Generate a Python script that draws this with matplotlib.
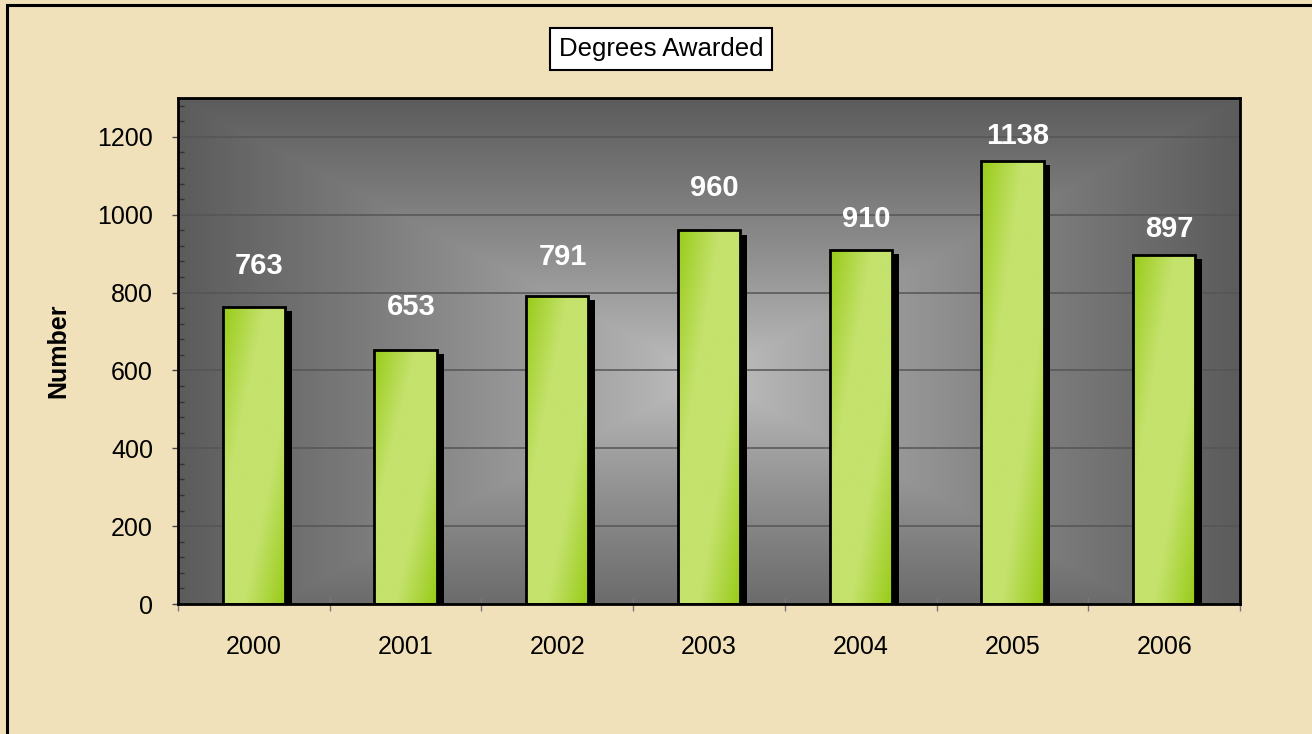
"""Degrees awarded per year: gradient bar chart on a parchment background."""

import matplotlib
matplotlib.use("Agg")
import matplotlib.pyplot as plt
import numpy as np
from matplotlib.patches import Rectangle
from matplotlib import patheffects as pe
from matplotlib.colors import LinearSegmentedColormap
from matplotlib.ticker import MultipleLocator, FixedLocator, NullFormatter
from matplotlib.transforms import offset_copy

# ── data ────────────────────────────────────────────────────────────
YEARS = ["2000", "2001", "2002", "2003", "2004", "2005", "2006"]
DEGREES = [763, 653, 791, 960, 910, 1138, 897]
# value labels were nudged by hand in the original, so lift each one separately
LABEL_LIFT = [106, 111, 101, 109, 80, 65, 67]

plt.rcParams["font.family"] = ["Liberation Sans", "DejaVu Sans"]

W, H = 1312, 734
fig = plt.figure(figsize=(W / 100, H / 100), dpi=100, facecolor="#F0E1BB")

# outer frame (only top/left edges fall inside the picture)
fig.patches.append(Rectangle((7 / W, -0.02), 1.1, 1 - 5 / H + 0.02,
                             transform=fig.transFigure, fill=False,
                             edgecolor="black", lw=2.2, clip_on=False))

ax = fig.add_axes([178 / W, 130 / H, 1062 / W, 506 / H])
ax.set_xlim(-0.5, len(YEARS) - 0.5)
ax.set_ylim(0, 1300)

# plot area: rectangular gradient, light centre -> dark edges
nx, ny = 400, 300
gx, gy = np.meshgrid(np.linspace(-1, 1, nx), np.linspace(-1, 1, ny))
t = np.maximum(np.abs(gx), np.abs(gy + 0.1) / 1.1)
t = np.clip(t, 0, 1) ** 0.85
bg_cmap = LinearSegmentedColormap.from_list("bg", ["#C2C2C2", "#5C5C5C"])
ax.imshow(t, cmap=bg_cmap, vmin=0, vmax=1, origin="lower", aspect="auto",
          extent=(-0.5, len(YEARS) - 0.5, 0, 1300), zorder=0,
          interpolation="bilinear")

ax.yaxis.grid(True, color="#555555", lw=1.1, zorder=1)
ax.set_axisbelow(True)

# bars: black body + drop shadow, then green diagonal gradient clipped inside
x = np.arange(len(YEARS))
BW = 0.41
bars = ax.bar(x, DEGREES, width=BW, color="black", zorder=2,
              path_effects=[pe.SimplePatchShadow(offset=(5, -3),
                                                 shadow_rgbFace="black",
                                                 alpha=1.0),
                            pe.Normal()])

green = LinearSegmentedColormap.from_list("g", ["#98CB18", "#C4E26C"])
gu, gv = np.meshgrid(np.linspace(0, 1, 60), np.linspace(0, 1, 200))
diag = (gu + (1 - gv)) / 2          # 0 top-left, 1 bottom-right
shade = 1 - np.abs(2 * diag - 1)
shade = np.clip(shade * 1.5, 0, 1)
for xi, val, b in zip(x, DEGREES, bars):
    im = ax.imshow(shade, cmap=green, vmin=0, vmax=1, origin="lower",
                   aspect="auto", interpolation="bilinear",
                   extent=(xi - BW / 2, xi + BW / 2, 0, val), zorder=2.5)
    im.set_clip_path(b)

ax.bar(x, DEGREES, width=BW, fill=False, edgecolor="black", lw=2, zorder=3)

label_tr = offset_copy(ax.transData, fig=fig, x=4, y=0, units="points")
for xi, val, lift in zip(x, DEGREES, LABEL_LIFT):
    ax.text(xi, val + lift, f"{val}", ha="center", va="center", color="white",
            fontsize=21, fontweight="bold", zorder=4, transform=label_tr)

# axes styling
for s in ax.spines.values():
    s.set_color("black")
    s.set_linewidth(2)

ax.yaxis.set_major_locator(MultipleLocator(200))
ax.yaxis.set_minor_locator(MultipleLocator(40))
ax.tick_params(axis="y", which="major", direction="out", length=4, width=1,
               color="#444444", labelsize=18, pad=14)
ax.tick_params(axis="y", which="minor", direction="in", length=4, width=1,
               color="#333333")

ax.set_xticks(x)
ax.set_xticklabels(YEARS)
ax.xaxis.set_minor_locator(FixedLocator(np.arange(-0.5, len(YEARS), 1.0)))
ax.xaxis.set_minor_formatter(NullFormatter())
ax.tick_params(axis="x", which="major", length=0, labelsize=18, pad=22)
ax.tick_params(axis="x", which="minor", direction="inout", length=10,
               width=1, color="#777777")

ax.set_ylabel("Number", fontsize=18, fontweight="bold")
ax.yaxis.set_label_coords(-0.101, 0.5)

fig.text(661 / W, 1 - 49 / H, "Degrees Awarded", ha="center", va="center",
         fontsize=18.5,
         bbox=dict(boxstyle="square,pad=0.35", facecolor="white",
                   edgecolor="black", lw=1.5))

fig.savefig("out.png", dpi=100, facecolor=fig.get_facecolor())
plt.close(fig)
